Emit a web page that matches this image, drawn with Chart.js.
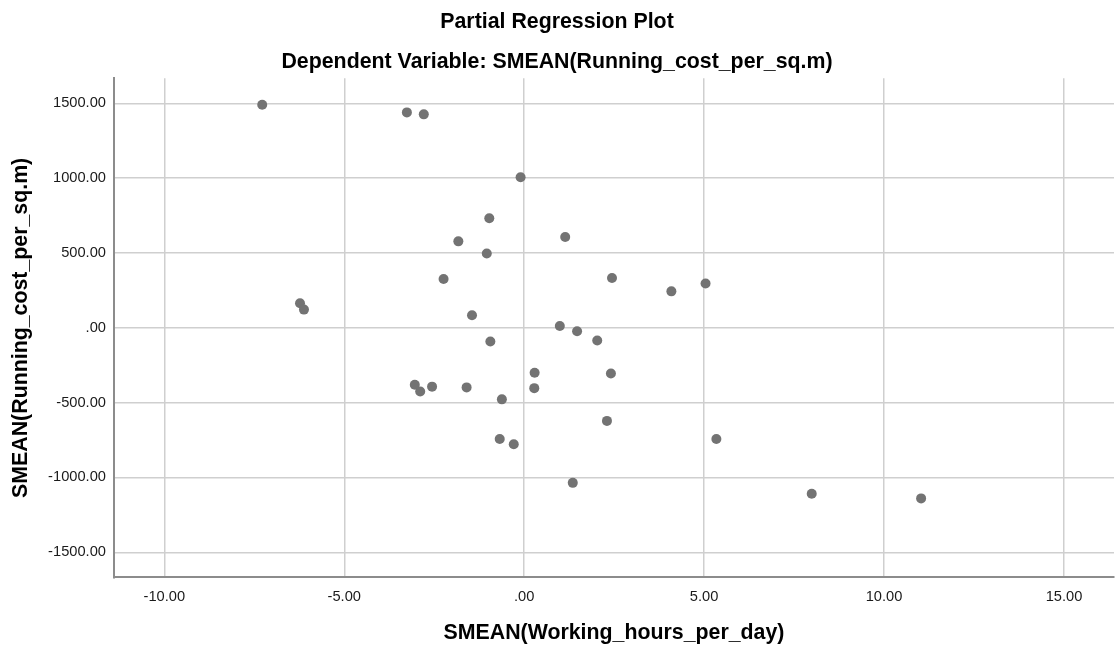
<!DOCTYPE html>
<html>
<head>
<meta charset="utf-8">
<title>Partial Regression Plot</title>
<script src="https://cdn.jsdelivr.net/npm/chart.js@4/dist/chart.umd.min.js"></script>
<style>
  html, body { margin: 0; padding: 0; background: #ffffff; }
  #wrap { width: 1119px; height: 652px; position: relative; }
</style>
</head>
<body>
<div id="wrap"><canvas id="myChart"></canvas></div>
<script>
// values
const workingHours = [-7.28, -3.26, -2.79, -0.10, -0.97, -1.83, -1.04, -2.24, -6.23, -6.12,
  -1.45, 1.14, 2.44, 4.09, 5.04, 0.99, 1.47, 2.03, 2.41, 2.30,
  5.34, 1.35, 7.99, 11.03, -0.94, 0.29, 0.28, -3.04, -2.89, -2.56,
  -1.60, -0.62, -0.68, -0.29];
const runningCost = [1491, 1440, 1427, 1007, 733, 578, 497, 327, 164, 122,
  84, 607, 333, 244, 297, 12, -23, -85, -305, -622,
  -743, -1036, -1109, -1140, -91, -300, -403, -380, -425, -393,
  -398, -478, -743, -778];
const xTicks = [-10, -5, 0, 5, 10, 15];
const yTicks = [-1500, -1000, -500, 0, 500, 1000, 1500];

const titleText = 'Partial Regression Plot';
const subtitleText = 'Dependent Variable: SMEAN(Running_cost_per_sq.m)';
const xTitle = 'SMEAN(Working_hours_per_day)';
const yTitle = 'SMEAN(Running_cost_per_sq.m)';

const fam = "'Liberation Sans', Arial, sans-serif";

var points = [];
for (let i = 0; i < workingHours.length; i++) {
  points.push({ x: workingHours[i], y: runningCost[i] });
}

// spss style: 1500.00, .00, -500.00
function fmt(v) {
  return v.toFixed(2).replace(/^(-?)0\./, '$1.');
}

const ctx = document.getElementById('myChart');
var chart = new Chart(ctx, {
  type: 'scatter',
  data: {
    datasets: [{
      data: points,
      backgroundColor: '#737373',
      borderWidth: 0,
      pointRadius: 5,
      pointHoverRadius: 5
    }]
  },
  options: {
    responsive: true,
    maintainAspectRatio: false,
    animation: false,
    layout: { padding: { left: 0, right: 5, top: 0, bottom: 0 } },
    plugins: {
      legend: { display: false },
      tooltip: { enabled: false },
      title: {
        display: true,
        text: titleText,
        color: '#000',
        font: { family: fam, size: 21.33, weight: 'bold' },
        padding: { top: 9, bottom: 0 }
      },
      subtitle: {
        display: true,
        text: subtitleText,
        color: '#000',
        font: { family: fam, size: 21.33, weight: 'bold' },
        padding: { top: 14.4, bottom: 3.7 }
      }
    },
    scales: {
      x: {
        type: 'linear',
        min: -11.4,
        max: 16.39,
        afterBuildTicks: function(scale) {
          scale.ticks = xTicks.map(v => ({ value: v }));
        },
        ticks: {
          color: '#1a1a1a',
          font: { family: fam, size: 14.67 },
          padding: 11,
          callback: fmt
        },
        grid: { color: '#cfcfcf', lineWidth: 1.5, drawTicks: false },
        border: { display: true, color: '#8c8c8c', width: 2 },
        title: {
          display: true,
          text: xTitle,
          color: '#000',
          font: { family: fam, size: 21.33, weight: 'bold' },
          padding: { top: 3.6, bottom: 5.8 }
        }
      },
      y: {
        type: 'linear',
        min: -1668,
        max: 1668,
        afterBuildTicks: function(scale) {
          scale.ticks = yTicks.map(v => ({ value: v }));
        },
        ticks: {
          color: '#1a1a1a',
          font: { family: fam, size: 14.67 },
          padding: 8,
          callback: fmt
        },
        grid: { color: '#cfcfcf', lineWidth: 1.5, drawTicks: false },
        border: { display: true, color: '#8c8c8c', width: 2 },
        title: {
          display: true,
          text: yTitle,
          color: '#000',
          font: { family: fam, size: 21.33, weight: 'bold' },
          padding: { top: 7.9, bottom: 6.6 }
        }
      }
    }
  }
});
</script>
</body>
</html>
